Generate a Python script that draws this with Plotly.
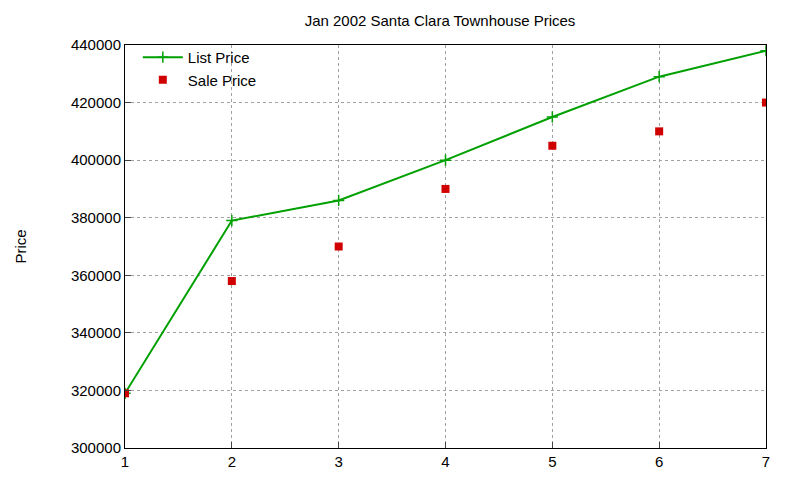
import plotly.graph_objects as go

x = [1, 2, 3, 4, 5, 6, 7]
list_price = [319000, 379000, 386000, 400000, 415000, 429000, 438000]
sale_price = [319000, 358000, 370000, 390000, 405000, 410000, 420000]

fig = go.Figure()
fig.add_trace(go.Scatter(x=x, y=list_price, mode="lines+markers", name="List Price",
                         line=dict(color="#00a000", width=2),
                         marker=dict(symbol="cross-thin", size=8, line=dict(color="#00a000", width=1.5))))
fig.add_trace(go.Scatter(x=x, y=sale_price, mode="markers", name="Sale Price",
                         marker=dict(symbol="square", size=8, color="#d00000")))

ax = dict(showline=True, linecolor="black", mirror=True, ticks="inside", ticklen=6,
          showgrid=True, gridcolor="#a0a0a0", griddash="dot", gridwidth=1, zeroline=False,
          tickfont=dict(size=15, color="black"))
fig.update_layout(
    width=800, height=480, plot_bgcolor="white", paper_bgcolor="white",
    font=dict(family="Liberation Sans, Arial", color="black"),
    margin=dict(l=111, r=42, t=37, b=40),
    title=dict(text="Jan 2002 Santa Clara Townhouse Prices", x=0.54, y=0.985, yanchor="top",
               xanchor="center", font=dict(size=15)),
    xaxis=dict(range=[1, 7], dtick=1, **ax),
    yaxis=dict(range=[300000, 440000], dtick=20000, tickformat="d",
               title=dict(text="Price", font=dict(size=15), standoff=40), **ax),
    legend=dict(x=0.02, y=1.01, xanchor="left", yanchor="top", bgcolor="rgba(0,0,0,0)",
                font=dict(size=15), tracegroupgap=0, itemwidth=40),
)
fig.write_html("out.html")
